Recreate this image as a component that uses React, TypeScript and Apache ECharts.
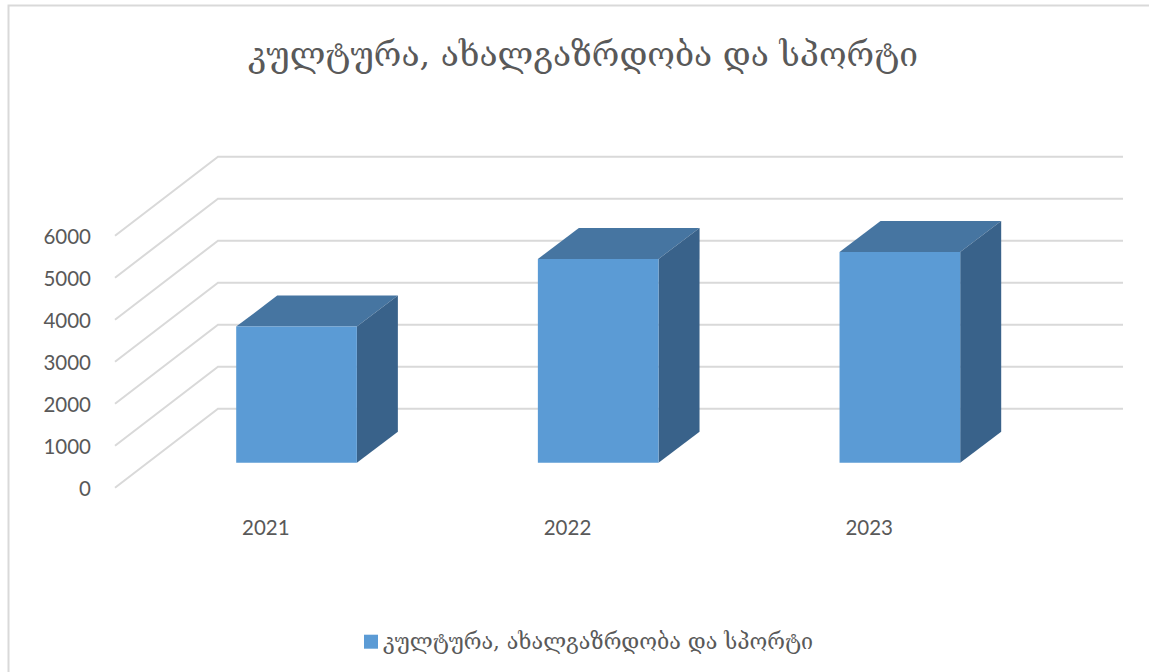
import React, { useEffect, useRef } from "react";
import * as echarts from "echarts";

const titleText = "კულტურა, ახალგაზრდობა და სპორტი";
const categories = ["2021", "2022", "2023"];
const values = [3240, 4850, 5015];
const gridTicks = [0, 1000, 2000, 3000, 4000, 5000, 6000];

const WALL_DX = 103;
const WALL_DY = 79;
const BAR_OFF_X = 30.7;
const BAR_OFF_Y = 25;
const BAR_DX = 41;
const BAR_DY = 31;

export default function App() {
  const ref = useRef<HTMLDivElement>(null);
  useEffect(() => {
    document.body.style.margin = "0";
    const chart = echarts.init(ref.current!, null, { renderer: "svg" });
    chart.setOption({
      animation: false,
      backgroundColor: "#ffffff",
      title: {
        text: titleText,
        left: 578,
        top: 49,
        textAlign: "center",
        textVerticalAlign: "middle",
        textStyle: { fontFamily: "DejaVu Serif", fontSize: 33.5, fontWeight: "normal", color: "#595959" },
      },
      legend: {
        data: [{ name: titleText, icon: "rect" }],
        left: 359,
        top: 625.7,
        itemWidth: 14,
        itemHeight: 14,
        itemGap: 0,
        textStyle: { fontFamily: "DejaVu Serif", fontSize: 21.5, color: "#595959", padding: [3, 0, 0, 0] },
      },
      grid: { left: 115, top: 235.7, width: 905, height: 252 },
      xAxis: {
        type: "category",
        data: categories,
        axisLine: { show: false },
        axisTick: { show: false },
        axisLabel: { margin: 29, fontFamily: "Lato", fontSize: 20.5, color: "#595959" },
      },
      yAxis: {
        type: "value",
        min: 0,
        max: 6000,
        interval: 1000,
        axisLine: { show: false },
        axisTick: { show: false },
        splitLine: { show: false },
        axisLabel: {
          margin: 24,
          fontFamily: "Lato",
          fontSize: 20.5,
          color: "#595959",
          formatter: (v: number) => String(v),
        },
      },
      graphic: [
        {
          type: "polyline",
          shape: { points: [[8.5, 672], [8.5, 5.5], [1149, 5.5]] },
          style: { fill: "none", stroke: "#d9d9d9", lineWidth: 2 },
          silent: true,
        },
      ],
      series: [
        {
          type: "custom",
          name: "grid",
          silent: true,
          z: 1,
          clip: false,
          data: gridTicks.map((v) => [0, v]),
          encode: { x: 0, y: 1 },
          renderItem: (params: any, api: any) => {
            const y = api.coord([0, api.value(1)])[1];
            const x0 = params.coordSys.x;
            const x1 = x0 + params.coordSys.width;
            return {
              type: "polyline",
              shape: { points: [[x0, y], [x0 + WALL_DX, y - WALL_DY], [x1 + WALL_DX, y - WALL_DY]] },
              style: { fill: "none", stroke: "#d9d9d9", lineWidth: 2 },
            };
          },
        },
        {
          type: "custom",
          name: titleText,
          z: 2,
          clip: false,
          itemStyle: { color: "#5b9bd5" },
          data: values.map((v, i) => [i, v]),
          encode: { x: 0, y: 1 },
          renderItem: (_params: any, api: any) => {
            const top = api.coord([api.value(0), api.value(1)]);
            const base = api.coord([api.value(0), 0]);
            const w = api.size([1, 0])[0] * 0.4;
            const l = top[0] + BAR_OFF_X - w / 2;
            const r = l + w;
            const t = top[1] - BAR_OFF_Y;
            const b = base[1] - BAR_OFF_Y;
            return {
              type: "group",
              children: [
                {
                  type: "polygon",
                  shape: { points: [[l, t], [r, t], [r + BAR_DX, t - BAR_DY], [l + BAR_DX, t - BAR_DY]] },
                  style: { fill: "#4675a1" },
                },
                {
                  type: "polygon",
                  shape: { points: [[r, t], [r + BAR_DX, t - BAR_DY], [r + BAR_DX, b - BAR_DY], [r, b]] },
                  style: { fill: "#39628a" },
                },
                {
                  type: "rect",
                  shape: { x: l, y: t, width: w, height: b - t },
                  style: { fill: "#5b9bd5" },
                },
              ],
            };
          },
        },
      ],
    });
    return () => chart.dispose();
  }, []);
  return <div ref={ref} style={{ width: 1149, height: 672 }} />;
}
